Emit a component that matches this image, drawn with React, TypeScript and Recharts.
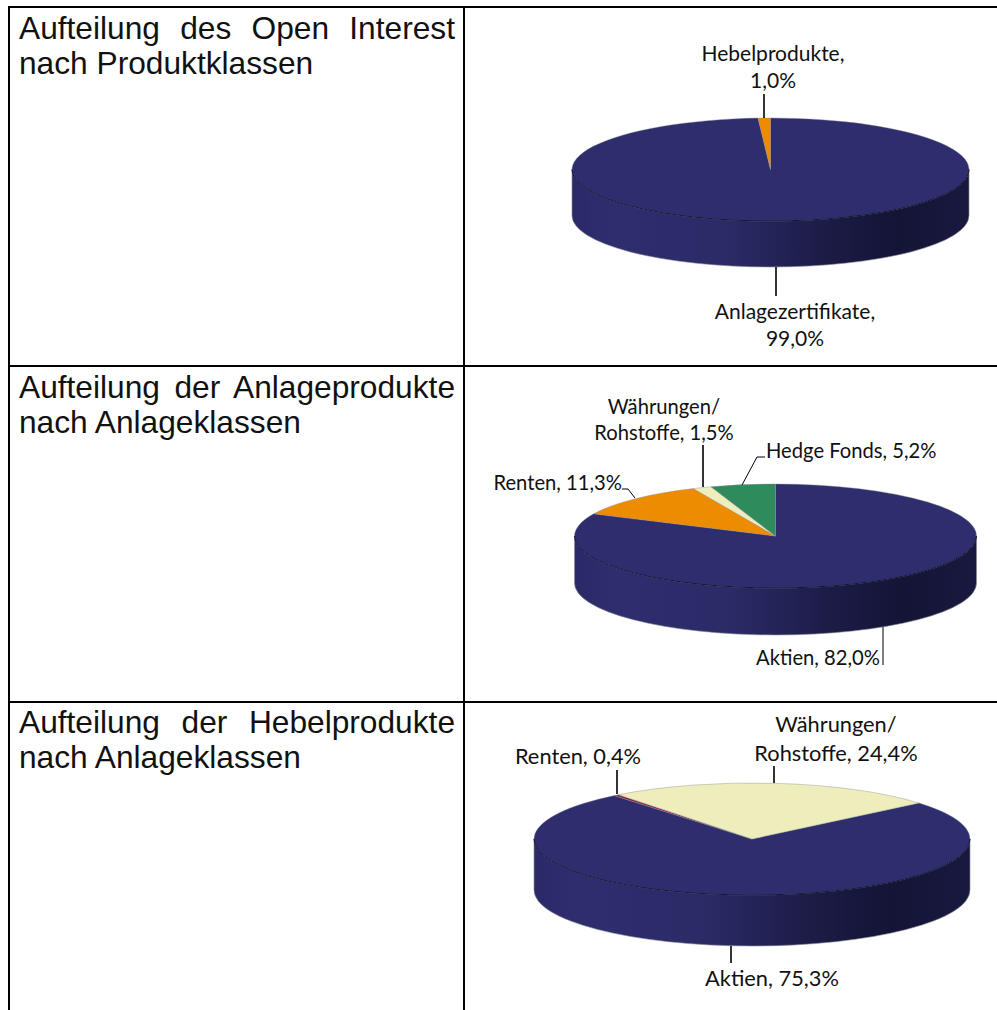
import { PieChart, Pie } from 'recharts'

const NAVY = '#2e2d6e'
const ORANGE = '#ee8c00'
const GREEN = '#2e8b5c'
const BEIGE = '#eeeebc'
const RED = '#8b1f3f'

const productNames = ['Anlagezertifikate', 'Hebelprodukte']
const productValues = [99.0, 1.0]
const productColors = [NAVY, ORANGE]

const investNames = ['Aktien', 'Renten', 'Währungen/\nRohstoffe', 'Hedge Fonds']
const investValues = [82.0, 11.3, 1.5, 5.2]
const investColors = [NAVY, ORANGE, BEIGE, GREEN]

const leverNames = ['Aktien', 'Renten', 'Währungen/\nRohstoffe']
const leverValues = [75.3, 0.4, 24.4]
const leverColors = [NAVY, RED, BEIGE]

const rowTitles = [
  ['Aufteilung des Open Interest', 'nach Produktklassen'],
  ['Aufteilung der Anlageprodukte', 'nach Anlageklassen'],
  ['Aufteilung der Hebelprodukte', 'nach Anlageklassen'],
]
const rowTops = [10.5, 369.5, 704.5]

interface LabelPos {
  x: number
  y: number
  anchor?: 'start' | 'middle' | 'end'
  wrap?: boolean
  line: string
  thin?: boolean
}

const productLabels: LabelPos[] = [
  { x: 795, y: 319, wrap: true, line: '776,267 776,296' },
  { x: 773, y: 61, wrap: true, line: '764,94 764,118' },
]
const investLabels: LabelPos[] = [
  { x: 880, y: 665, anchor: 'end', line: '883,627 883,665', thin: true },
  { x: 622, y: 490, anchor: 'end', line: '622,489 628,489 635,498', thin: true },
  { x: 664, y: 414, line: '703,445 703,487' },
  { x: 766, y: 458, anchor: 'start', line: '765,457 757,457 742,485', thin: true },
]
const leverLabels: LabelPos[] = [
  { x: 772, y: 986, line: '731,946 731,963' },
  { x: 578, y: 764, line: '617,770 617,794' },
  { x: 836, y: 732, line: '774,766 774,783' },
]

const rad = (a: number) => (a * Math.PI) / 180

// recharts only knows circles, so the sector is flattened to an ellipse here
function tiltedSector(ry: number, depth: number) {
  return (props: any) => {
    const { cx, cy, outerRadius: rx, startAngle, endAngle, fill } = props
    const px = (a: number) => cx + rx * Math.cos(rad(a))
    const py = (a: number) => cy - ry * Math.sin(rad(a))
    const lo = Math.min(startAngle, endAngle)
    const hi = Math.max(startAngle, endAngle)
    const large = hi - lo > 180 ? 1 : 0
    const face = `M${cx},${cy} L${px(hi)},${py(hi)} A${rx},${ry} 0 ${large} 1 ${px(lo)},${py(lo)} Z`

    // front part of the rim: the angles where the ellipse faces down
    const walls: [number, number][] = []
    for (let k = -2; k <= 1; k++) {
      const a = Math.max(lo, -180 + 360 * k)
      const b = Math.min(hi, 360 * k)
      if (b > a) walls.push([a, b])
    }
    return (
      <g>
        {walls.map(([a, b]) => (
          <g key={a}>
            <path
              d={`M${px(b)},${py(b)} A${rx},${ry} 0 0 1 ${px(a)},${py(a)} L${px(a)},${py(a) + depth} A${rx},${ry} 0 0 0 ${px(b)},${py(b) + depth} Z`}
              fill="url(#wallShade)"
              stroke="#8a8a96"
              strokeWidth={0.6}
            />
          </g>
        ))}
        <path d={face} fill={fill} stroke="#8a8a96" strokeWidth={0.4} />
        {walls.map(([a, b]) => (
          <path
            key={a}
            d={`M${px(b)},${py(b)} A${rx},${ry} 0 0 1 ${px(a)},${py(a)}`}
            fill="none"
            stroke="#14143a"
            strokeWidth={1}
          />
        ))}
      </g>
    )
  }
}

function sliceLabel(positions: LabelPos[], fontSize: number, lineGap: number) {
  return (props: any) => {
    const pos = positions[props.index]
    const pct = Number(props.value).toFixed(1).replace('.', ',') + '%'
    const sep = pos.wrap ? ',\n' : ', '
    const lines = `${props.name}${sep}${pct}`.split('\n')
    return (
      <g key={props.index}>
        <polyline
          points={pos.line}
          fill="none"
          stroke="#000"
          strokeWidth={pos.thin ? 1 : 1.6}
        />
        <text
          x={pos.x}
          y={pos.y}
          textAnchor={pos.anchor ?? 'middle'}
          fontFamily="Lato"
          fontSize={fontSize}
          fill="#111"
        >
          {lines.map((l, i) => (
            <tspan key={i} x={pos.x} dy={i === 0 ? 0 : lineGap}>
              {l}
            </tspan>
          ))}
        </text>
      </g>
    )
  }
}

const toRows = (names: string[], values: number[], colors: string[]) =>
  names.map((name, i) => ({ name, value: values[i], fill: colors[i] }))

const rule = (left: number, top: number, width: number, height: number) => (
  <div style={{ position: 'absolute', left, top, width, height, background: '#000' }} />
)

export default function App() {
  return (
    <div style={{ position: 'absolute', left: 0, top: 0, width: 997, height: 1010, background: '#fff', overflow: 'hidden' }}>
      {rule(8, 6, 989, 2)}
      {rule(8, 365, 989, 2)}
      {rule(8, 701, 989, 2)}
      {rule(8, 6, 2, 1004)}
      {rule(463, 6, 2, 1004)}
      {rowTitles.map((lines, r) => (
        <div
          key={r}
          style={{
            position: 'absolute',
            left: 19,
            top: rowTops[r],
            width: 436,
            fontFamily: 'Liberation Sans',
            fontSize: 31.7,
            lineHeight: '35.5px',
            color: '#111',
          }}
        >
          <div style={{ textAlign: 'justify', textAlignLast: 'justify' }}>{lines[0]}</div>
          <div>{lines[1]}</div>
        </div>
      ))}
      <div style={{ position: 'absolute', left: 0, top: 0 }}>
        <PieChart width={997} height={1010} margin={{ top: 0, right: 0, bottom: 0, left: 0 }}>
          <defs>
            <linearGradient id="wallShade" x1="0" y1="0" x2="1" y2="0">
              <stop offset="0" stopColor="#2b2a68" />
              <stop offset="0.1" stopColor="#2e2d6e" />
              <stop offset="0.38" stopColor="#2c2b68" />
              <stop offset="0.65" stopColor="#1b1b45" />
              <stop offset="0.82" stopColor="#141436" />
              <stop offset="1" stopColor="#191940" />
            </linearGradient>
          </defs>
          <Pie
            data={toRows(productNames, productValues, productColors)}
            dataKey="value"
            nameKey="name"
            cx={770.5}
            cy={169.5}
            outerRadius={198.5}
            startAngle={90}
            endAngle={-270}
            stroke="none"
            shape={tiltedSector(51.5, 46)}
            label={sliceLabel(productLabels, 21, 27)}
            labelLine={false}
            isAnimationActive={false}
          />
          <Pie
            data={toRows(investNames, investValues, investColors)}
            dataKey="value"
            nameKey="name"
            cx={775.5}
            cy={536}
            outerRadius={201}
            startAngle={90}
            endAngle={-270}
            stroke="none"
            shape={tiltedSector(52, 47)}
            label={sliceLabel(investLabels, 20.2, 26)}
            labelLine={false}
            isAnimationActive={false}
          />
          <Pie
            data={toRows(leverNames, leverValues, leverColors)}
            dataKey="value"
            nameKey="name"
            cx={752}
            cy={839}
            outerRadius={218}
            startAngle={40}
            endAngle={-320}
            stroke="none"
            shape={tiltedSector(56, 51)}
            label={sliceLabel(leverLabels, 21.8, 29)}
            labelLine={false}
            isAnimationActive={false}
          />
        </PieChart>
      </div>
    </div>
  )
}
